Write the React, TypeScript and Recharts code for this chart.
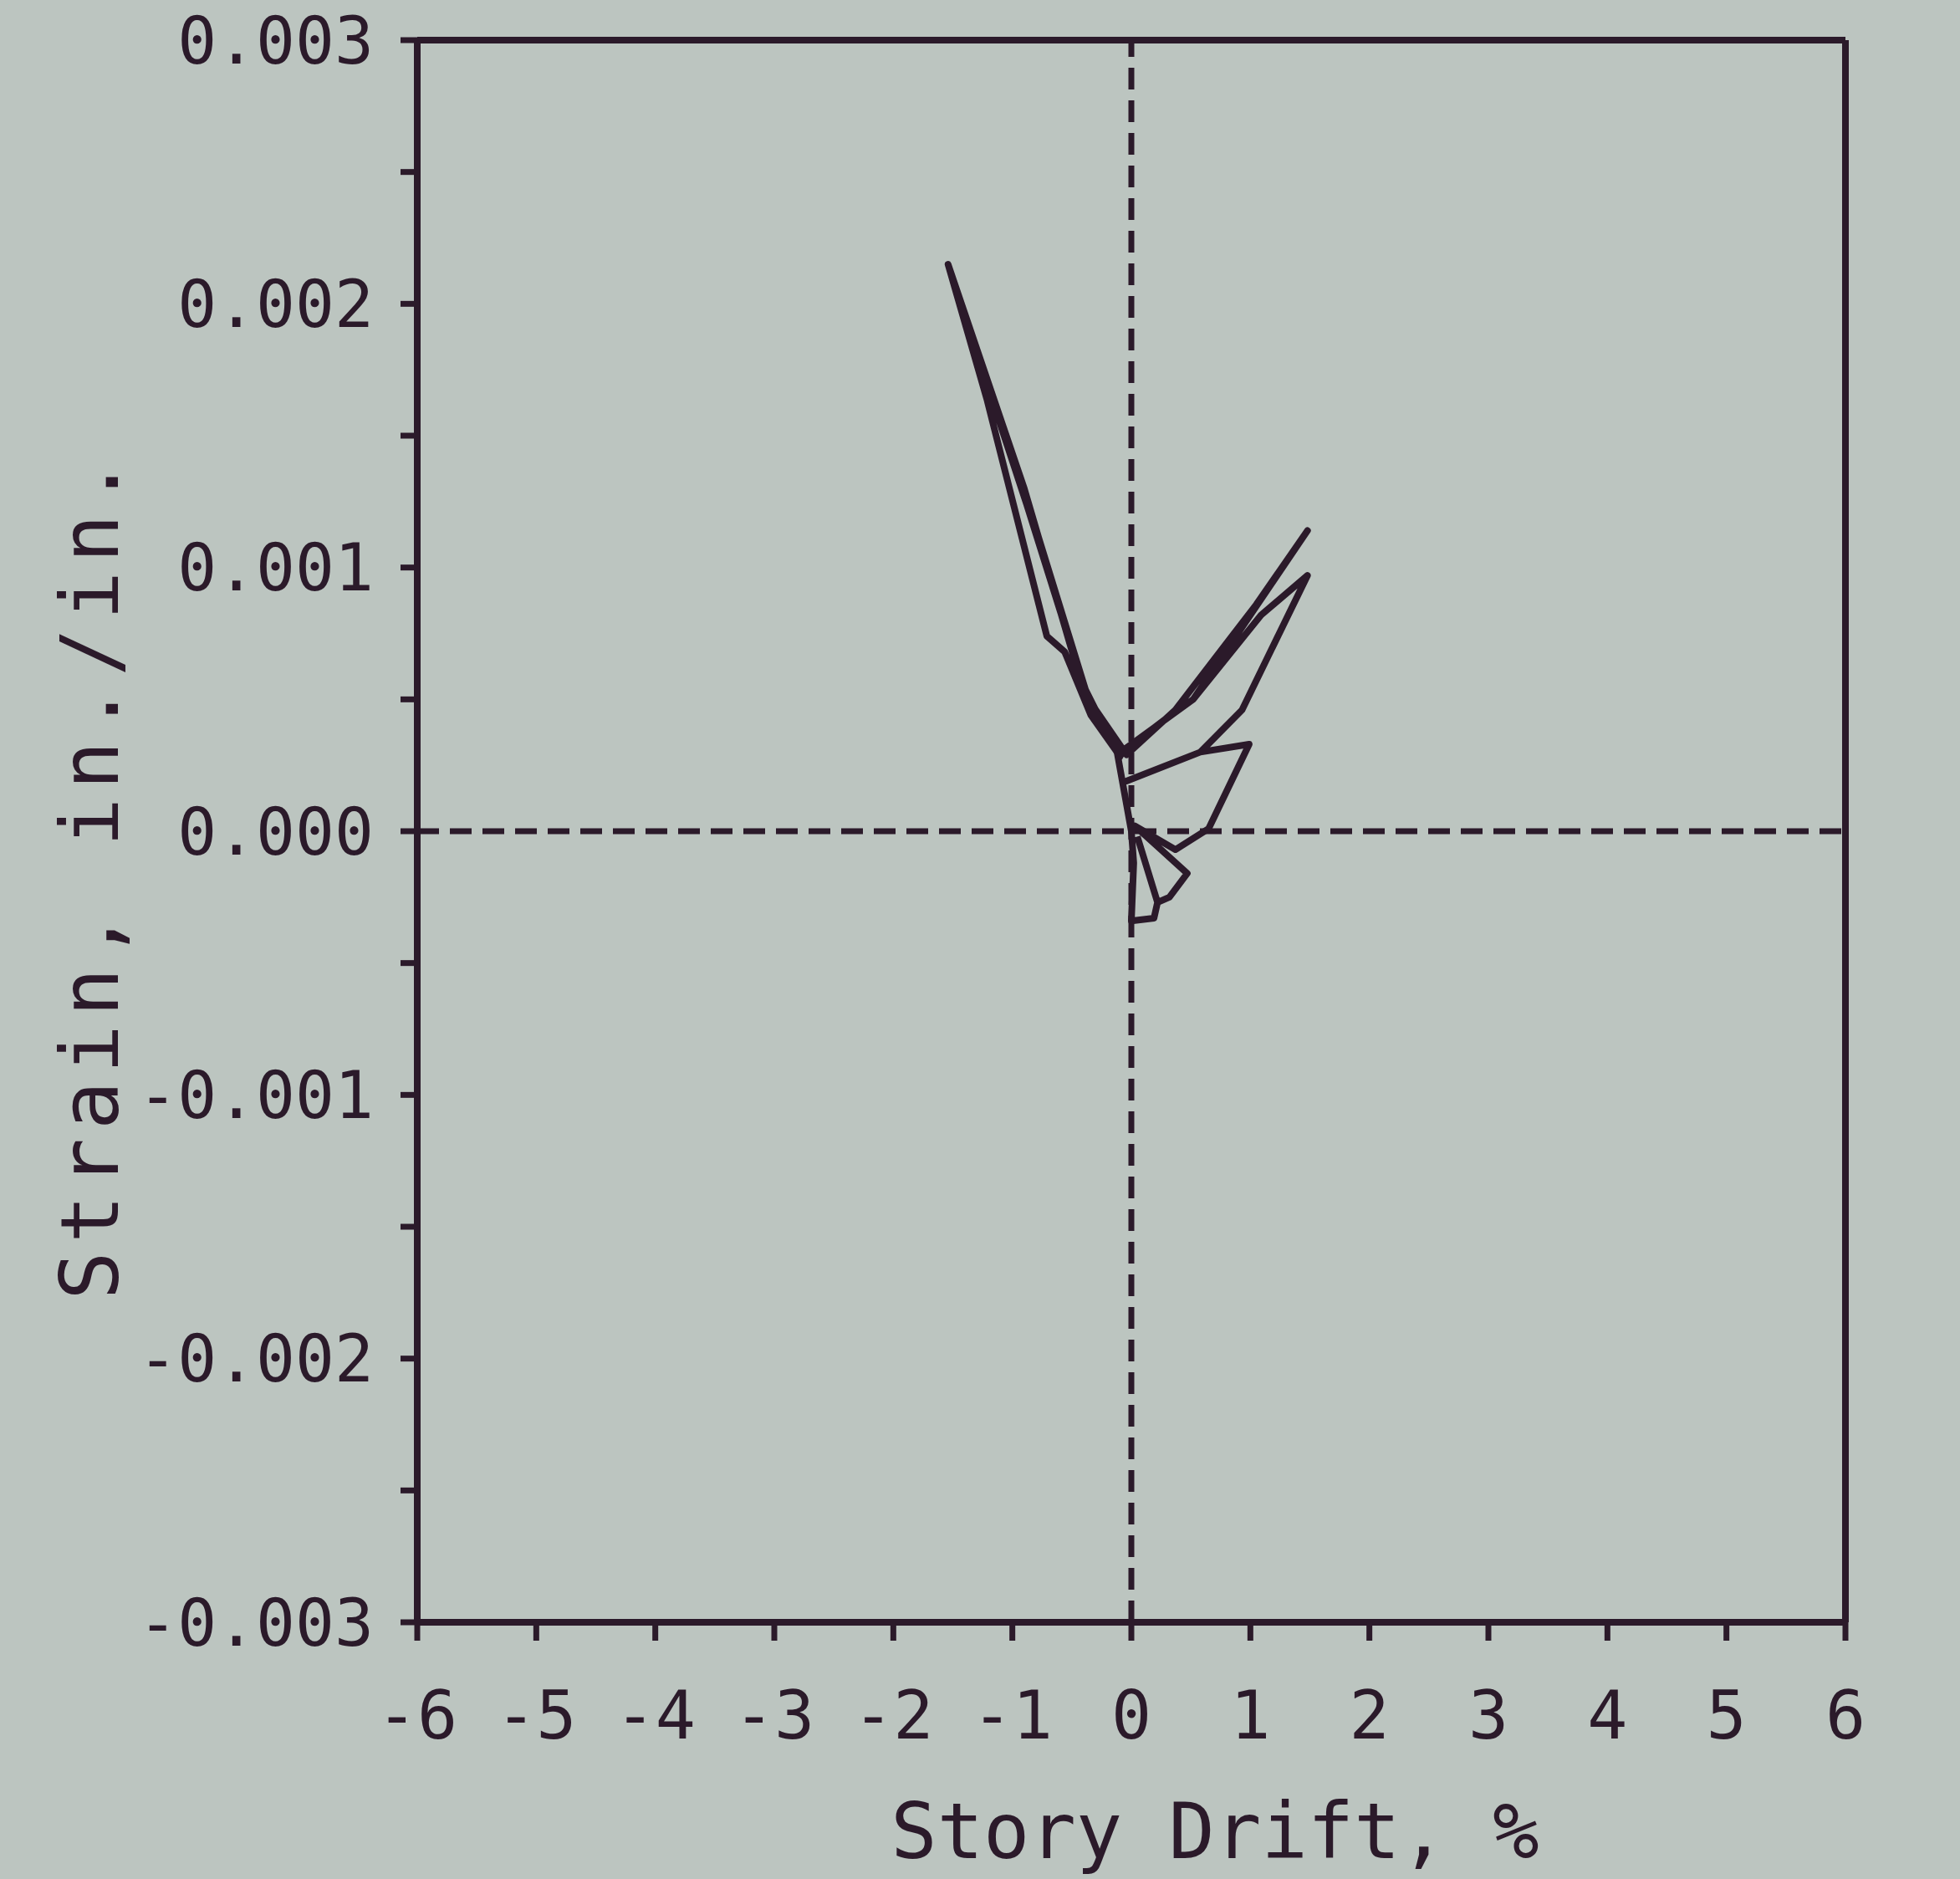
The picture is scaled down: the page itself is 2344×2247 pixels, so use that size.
import React from 'react';
import { LineChart, Line, XAxis, YAxis, ReferenceLine } from 'recharts';

// Story drift (%) and strain (in./in.), in drawing order
const driftPct = [
  0.22, 0.19, 0.0, 0.02, 0.0, -0.12, -0.38, -0.9, -1.54, -1.215, -0.71, -0.56, -0.34, -0.12,
  -0.02, 0.3, 0.52, 1.48, 1.05, 0.37, -0.04, -0.36, -0.92, -1.5, -0.88, -0.4, -0.1, -0.06,
  0.52, 1.09, 1.48, 0.93, 0.58, -0.04, 0.58, 0.99, 0.65, 0.37, 0.03, 0.47, 0.32, 0.22, 0.05,
];
const strainInIn = [
  -0.00027, -0.00033, -0.00034, -0.00012, 0.0, 0.0003, 0.0005, 0.0013, 0.00215, 0.00164, 0.00074,
  0.00068, 0.00044, 0.0003, 0.00032, 0.00043, 0.0005, 0.00114, 0.00086, 0.00046, 0.00029, 0.0005,
  0.00132, 0.00209, 0.00124, 0.00055, 0.00028, 0.00031, 0.0005, 0.00082, 0.00097, 0.00046, 0.0003,
  0.00019, 0.0003, 0.00033, 0.00001, -0.00007, 0.00002, -0.00016, -0.00025, -0.00027, -0.00002,
];

const xTicks = [-6, -5, -4, -3, -2, -1, 0, 1, 2, 3, 4, 5, 6];
const yTicks = [
  -0.003, -0.0025, -0.002, -0.0015, -0.001, -0.0005, 0, 0.0005, 0.001, 0.0015, 0.002, 0.0025, 0.003,
];
const yTickLabels = [
  '-0.003', '', '-0.002', '', '-0.001', '', '0.000', '', '0.001', '', '0.002', '', '0.003',
];
const xAxisTitle = 'Story Drift, %';
const yAxisTitle = 'Strain, in./in.';

const data = driftPct.map((d, i) => ({ drift: d, strain: strainInIn[i] }));

const W = 2344;
const H = 2247;
const BG = '#bcc5c0';
const INK = '#2b1a2a';
const FONT = '"DejaVu Sans Mono", "Liberation Mono", monospace';

const fmtY = (v: number) => {
  const idx = yTicks.findIndex((t) => Math.abs(t - v) < 1e-9);
  return idx >= 0 ? yTickLabels[idx] : '';
};

export default function App() {
  return (
    <div
      style={{
        position: 'absolute',
        left: 0,
        top: 0,
        width: W,
        height: H,
        background: BG,
        overflow: 'hidden',
      }}
    >
      <LineChart
        width={W}
        height={H}
        data={data}
        margin={{ top: 47, right: 136, bottom: 0, left: 0 }}
      >
        <XAxis
          dataKey="drift"
          type="number"
          domain={[-6, 6]}
          ticks={xTicks}
          interval={0}
          allowDataOverflow
          height={307}
          axisLine={{ stroke: INK, strokeWidth: 8 }}
          tickLine={{ stroke: INK, strokeWidth: 7 }}
          tickSize={22}
          tickMargin={60}
          tick={{ fill: INK, fontSize: 80, fontFamily: FONT }}
        />
        <XAxis
          xAxisId="top"
          orientation="top"
          type="number"
          domain={[-6, 6]}
          height={1}
          tick={false}
          tickLine={false}
          axisLine={{ stroke: INK, strokeWidth: 8 }}
        />
        <YAxis
          type="number"
          domain={[-0.003, 0.003]}
          ticks={yTicks}
          interval={0}
          allowDataOverflow
          width={499}
          tickFormatter={fmtY}
          axisLine={{ stroke: INK, strokeWidth: 8 }}
          tickLine={{ stroke: INK, strokeWidth: 7 }}
          tickSize={20}
          tickMargin={32}
          tick={{ fill: INK, fontSize: 78, fontFamily: FONT }}
        />
        <YAxis
          yAxisId="right"
          orientation="right"
          type="number"
          domain={[-0.003, 0.003]}
          width={1}
          tick={false}
          tickLine={false}
          axisLine={{ stroke: INK, strokeWidth: 8 }}
        />
        <ReferenceLine x={0} stroke={INK} strokeWidth={7} strokeDasharray="26 13" />
        <ReferenceLine y={0} stroke={INK} strokeWidth={7} strokeDasharray="26 13" />
        <Line
          dataKey="strain"
          type="linear"
          stroke={INK}
          strokeWidth={8}
          strokeLinejoin="round"
          dot={false}
          isAnimationActive={false}
        />
      </LineChart>
      <svg
        width={W}
        height={H}
        style={{ position: 'absolute', left: 0, top: 0, pointerEvents: 'none' }}
      >
        <text
          x={1453}
          y={2222}
          textAnchor="middle"
          fill={INK}
          fontSize={92}
          fontFamily={FONT}
        >
          {xAxisTitle}
        </text>
        <text
          x={108}
          y={1046}
          textAnchor="middle"
          dominantBaseline="central"
          transform="rotate(-90 108 1046)"
          fill={INK}
          fontSize={96}
          letterSpacing={10}
          fontFamily={FONT}
        >
          {yAxisTitle}
        </text>
      </svg>
    </div>
  );
}
